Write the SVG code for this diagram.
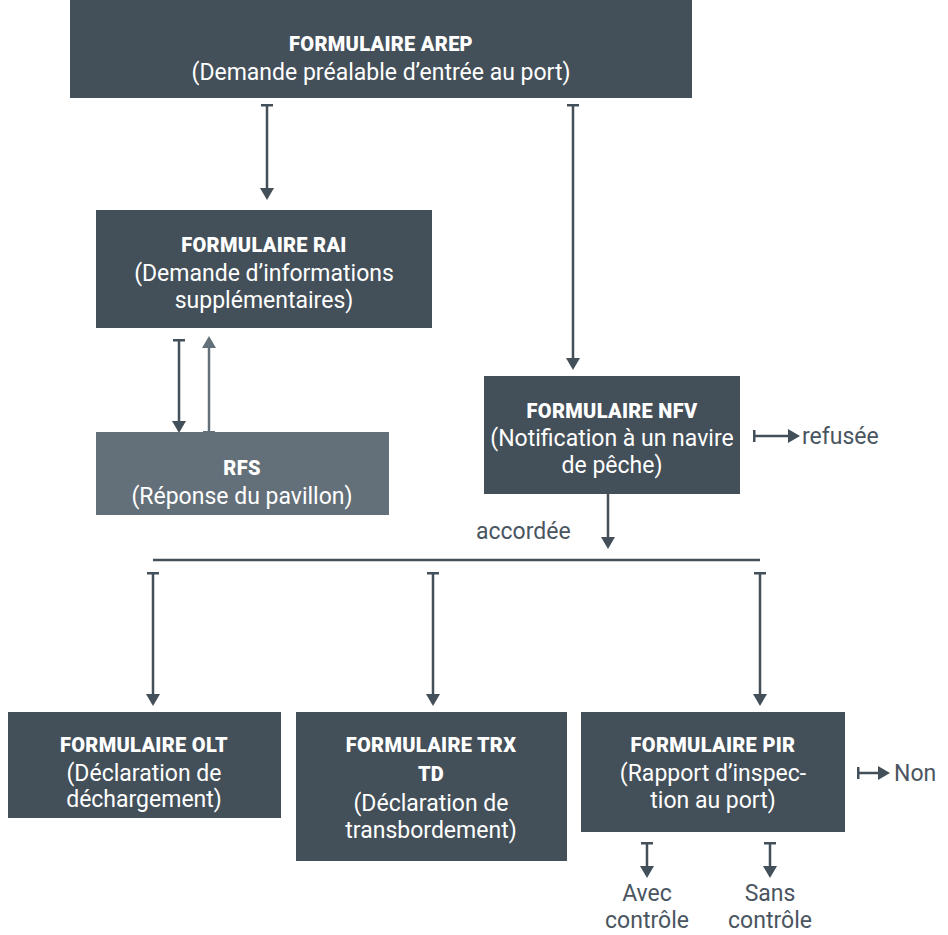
<svg xmlns="http://www.w3.org/2000/svg" width="948" height="935" viewBox="0 0 948 935">
<style>
.box{fill:#434f59}
.box2{fill:#637079}
.t{font-family:Roboto,"Liberation Sans",sans-serif;font-weight:900;font-size:20px;fill:#fff;text-anchor:middle;letter-spacing:0.3px}
.s{font-family:Roboto,"Liberation Sans",sans-serif;font-size:23px;fill:#fff;text-anchor:middle}
.l{font-family:Roboto,"Liberation Sans",sans-serif;font-size:23px;fill:#4a555f}
.c{stroke:#434f59;stroke-width:2.5;fill:none}
.c2{stroke:#637079;stroke-width:2.5;fill:none}
</style>
<defs>
<marker id="ah" viewBox="0 0 12 14" refX="6" refY="7" markerWidth="12" markerHeight="14" markerUnits="userSpaceOnUse" orient="auto"><path d="M0,0 L12,7 L0,14 z" fill="#434f59"/></marker>
<marker id="tb" viewBox="0 0 3 12" refX="1.5" refY="6" markerWidth="3" markerHeight="12" markerUnits="userSpaceOnUse" orient="auto"><rect x="0" y="0" width="3" height="12" fill="#434f59"/></marker>
<marker id="ah2" viewBox="0 0 12 14" refX="6" refY="7" markerWidth="12" markerHeight="14" markerUnits="userSpaceOnUse" orient="auto"><path d="M0,0 L12,7 L0,14 z" fill="#637079"/></marker>
<marker id="tb2" viewBox="0 0 3 12" refX="1.5" refY="6" markerWidth="3" markerHeight="12" markerUnits="userSpaceOnUse" orient="auto"><rect x="0" y="0" width="3" height="12" fill="#637079"/></marker>
</defs>
<g id="arep"><rect class="box" x="70" y="0" width="622" height="98"/><text class="t" x="381" y="51">FORMULAIRE AREP</text><text class="s" x="381" y="80">(Demande préalable d’entrée au port)</text></g>
<g id="rai"><rect class="box" x="96" y="210" width="336" height="118"/><text class="t" x="264" y="252">FORMULAIRE RAI</text><text class="s" x="264" y="281">(Demande d’informations</text><text class="s" x="264" y="308">supplémentaires)</text></g>
<g id="rfs"><rect class="box2" x="96" y="432" width="293" height="83"/><text class="t" x="242" y="475">RFS</text><text class="s" x="242" y="504">(Réponse du pavillon)</text></g>
<g id="nfv"><rect class="box" x="484" y="376" width="256" height="118"/><text class="t" x="612" y="418">FORMULAIRE NFV</text><text class="s" x="612" y="446">(Notification à un navire</text><text class="s" x="612" y="473">de pêche)</text></g>
<g id="olt"><rect class="box" x="8" y="712" width="273" height="106"/><text class="t" x="144" y="752">FORMULAIRE OLT</text><text class="s" x="144" y="781">(Déclaration de</text><text class="s" x="144" y="807">déchargement)</text></g>
<g id="trx"><rect class="box" x="296" y="712" width="271" height="149"/><text class="t" x="431" y="752">FORMULAIRE TRX</text><text class="t" x="431" y="781">TD</text><text class="s" x="431" y="811">(Déclaration de</text><text class="s" x="431" y="838">transbordement)</text></g>
<g id="pir"><rect class="box" x="581" y="712" width="264" height="120"/><text class="t" x="713" y="752">FORMULAIRE PIR</text><text class="s" x="713" y="781">(Rapport d’inspec-</text><text class="s" x="713" y="808">tion au port)</text></g>
<g id="labels">
<text class="l" x="802" y="444">refusée</text>
<text class="l" x="476" y="539">accordée</text>
<text class="l" x="894" y="781">Non</text>
<text class="l" x="647" y="901" text-anchor="middle">Avec</text>
<text class="l" x="647" y="928" text-anchor="middle">contrôle</text>
<text class="l" x="770" y="901" text-anchor="middle">Sans</text>
<text class="l" x="770" y="928" text-anchor="middle">contrôle</text>
</g>
<g id="connectors">
<line class="c" x1="267" y1="105" x2="267" y2="194" marker-start="url(#tb)" marker-end="url(#ah)"/>
<line class="c" x1="573" y1="105" x2="573" y2="364" marker-start="url(#tb)" marker-end="url(#ah)"/>
<line class="c" x1="179" y1="340" x2="179" y2="427" marker-start="url(#tb)" marker-end="url(#ah)"/>
<line class="c2" x1="209" y1="432" x2="209" y2="342" marker-start="url(#tb2)" marker-end="url(#ah2)"/>
<line class="c" x1="754" y1="436" x2="794" y2="436" marker-start="url(#tb)" marker-end="url(#ah)"/>
<line class="c" x1="608" y1="494" x2="608" y2="543" marker-end="url(#ah)"/>
<line class="c" x1="153" y1="560" x2="760" y2="560"/>
<line class="c" x1="153" y1="573" x2="153" y2="700" marker-start="url(#tb)" marker-end="url(#ah)"/>
<line class="c" x1="433" y1="573" x2="433" y2="700" marker-start="url(#tb)" marker-end="url(#ah)"/>
<line class="c" x1="760" y1="573" x2="760" y2="700" marker-start="url(#tb)" marker-end="url(#ah)"/>
<line class="c" x1="858" y1="773" x2="884" y2="773" marker-start="url(#tb)" marker-end="url(#ah)"/>
<line class="c" x1="647" y1="843" x2="647" y2="872" marker-start="url(#tb)" marker-end="url(#ah)"/>
<line class="c" x1="770" y1="843" x2="770" y2="872" marker-start="url(#tb)" marker-end="url(#ah)"/>
</g>
</svg>
